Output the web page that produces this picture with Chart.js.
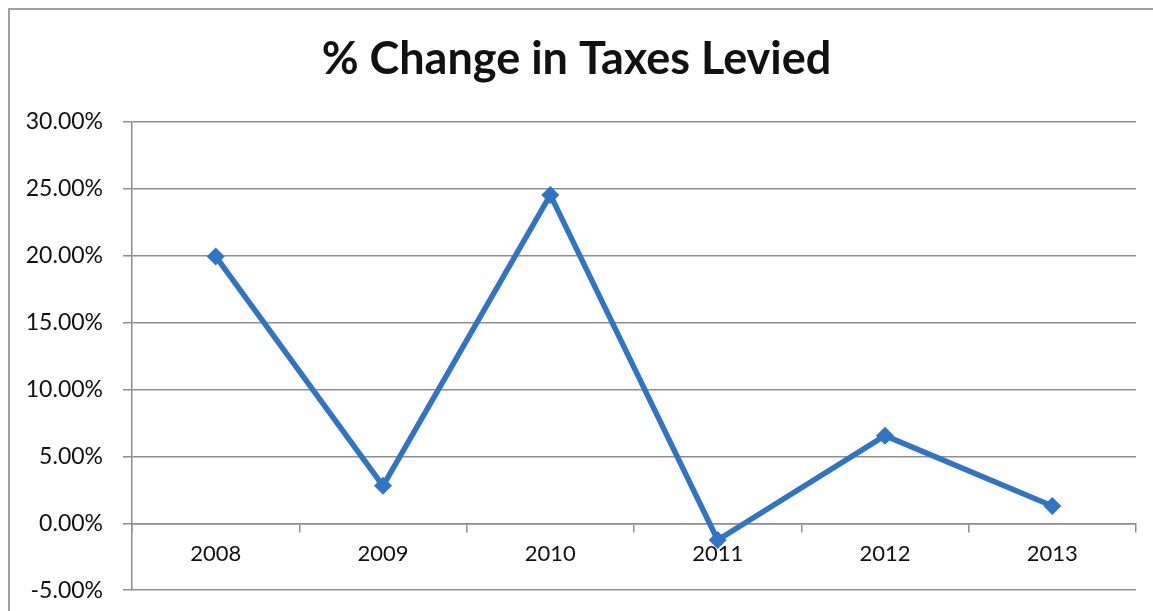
<!DOCTYPE html>
<html>
<head>
<meta charset="utf-8">
<script src="https://cdn.jsdelivr.net/npm/chart.js@4.4.0/dist/chart.umd.min.js"></script>
<style>
  html, body { margin: 0; padding: 0; background: #fff; overflow: hidden; }
  #frame { position: absolute; left: 8px; top: 8px; width: 1300px; height: 800px;
           border-left: 2px solid #a0a0a0; border-top: 2px solid #a0a0a0; }
  #wrap { position: absolute; left: 0; top: 0; width: 1153px; height: 624px; }
</style>
</head>
<body>
<div id="frame"></div>
<div id="wrap"><canvas id="c" width="1153" height="624"></canvas></div>
<script>
const categories = ['2008', '2009', '2010', '2011', '2012', '2013'];
const pctChange = [19.95, 2.8, 24.55, -1.25, 6.55, 1.3];
const yTicks = { min: -5, max: 30, step: 5 };
const titleText = '% Change in Taxes Levied';

const gridColor = '#8e8e8e';
const lineColor = '#2e75c6';
const fontFam = 'Lato, "Open Sans", sans-serif';

new Chart(document.getElementById('c'), {
  type: 'line',
  data: {
    labels: categories,
    datasets: [{
      data: pctChange,
      borderColor: lineColor,
      backgroundColor: lineColor,
      borderWidth: 5.5,
      pointStyle: 'rectRot',
      pointRadius: 9,
      pointHoverRadius: 9,
      pointBorderWidth: 0,
      tension: 0
    }]
  },
  options: {
    responsive: false,
    animation: false,
    events: [],
    layout: { padding: { left: 17, right: 17, top: 0, bottom: 22 } },
    plugins: {
      legend: { display: false },
      tooltip: { enabled: false },
      title: {
        display: true,
        text: titleText,
        color: '#111',
        font: { family: fontFam, size: 45, weight: 'bold', lineHeight: 1.2 },
        padding: { top: 32, bottom: 36 }
      }
    },
    scales: {
      x: {
        type: 'category',
        position: { y: 0 },
        offset: true,
        grid: {
          display: true,
          drawOnChartArea: false,
          drawTicks: true,
          offset: true,
          tickLength: 8,
          color: gridColor,
          lineWidth: 1.5
        },
        border: { display: true, color: gridColor, width: 1.5 },
        ticks: {
          color: '#111',
          font: { family: fontFam, size: 22 },
          padding: 9,
          maxRotation: 0
        }
      },
      y: {
        min: yTicks.min,
        max: yTicks.max,
        afterFit: (s) => { s.width = 115; },
        grid: {
          color: gridColor,
          lineWidth: 1.5,
          drawTicks: true,
          tickLength: 9
        },
        border: { display: true, color: gridColor, width: 1.5 },
        ticks: {
          stepSize: yTicks.step,
          color: '#111',
          font: { family: fontFam, size: 23 },
          padding: 20,
          callback: (v) => v.toFixed(2) + '%'
        }
      }
    }
  }
});
</script>
</body>
</html>
